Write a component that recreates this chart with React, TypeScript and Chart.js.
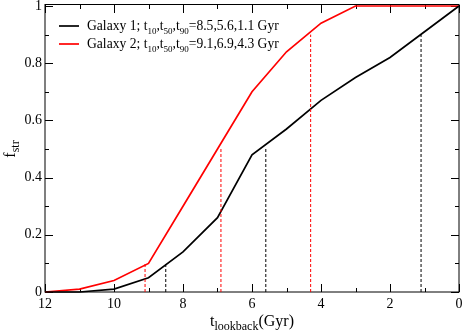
import React, { useEffect, useRef } from "react";
import { Chart, registerables } from "chart.js";

Chart.register(...registerables);

// ---- data ----
const lookbackTimes = [12, 11, 10, 9, 8, 7, 6, 5, 4, 3, 2, 1, 0];
const galaxy1 = [0, 0, 0.01, 0.05, 0.14, 0.26, 0.48, 0.57, 0.67, 0.75, 0.82, 0.91, 1.0];
const galaxy2 = [0, 0.01, 0.04, 0.10, 0.30, 0.50, 0.70, 0.84, 0.94, 1.0, 1.0, 1.0, 1.0];
const galaxy1Marks = [8.5, 5.6, 1.1];
const galaxy2Marks = [9.1, 6.9, 4.3];
const markLevels = [0.1, 0.5, 0.9];
const xTickLabels = [12, 10, 8, 6, 4, 2, 0];
const yTickLabels = [0, 0.2, 0.4, 0.6, 0.8, 1];
const legendNames = ["Galaxy 1", "Galaxy 2"];
const seriesColors = ["#000000", "#ff0000"];

const FONT = "'Liberation Serif', 'Times New Roman', serif";

function drawSubText(ctx: CanvasRenderingContext2D, parts: [string, boolean][], x: number, y: number, big: number, small: number, drop: number) {
  let cx = x;
  for (const [t, sub] of parts) {
    ctx.font = `${sub ? small : big}px ${FONT}`;
    ctx.fillText(t, cx, sub ? y + drop : y);
    cx += ctx.measureText(t).width;
  }
  return cx;
}

function measureSubText(ctx: CanvasRenderingContext2D, parts: [string, boolean][], big: number, small: number) {
  let w = 0;
  for (const [t, sub] of parts) {
    ctx.font = `${sub ? small : big}px ${FONT}`;
    w += ctx.measureText(t).width;
  }
  return w;
}

const decorPlugin = {
  id: "decor",
  beforeDatasetsDraw(chart: any) {
    const ctx: CanvasRenderingContext2D = chart.ctx;
    const { left, right, top, bottom } = chart.chartArea;
    const xs = chart.scales.x;
    const ys = chart.scales.y;
    ctx.save();
    ctx.strokeStyle = "#000";
    ctx.lineWidth = 1;
    // frame
    ctx.strokeRect(left, top - 1.5, right - left, bottom - top + 1.5);
    // x ticks
    for (let v = 0; v <= 12; v++) {
      const px = Math.round(xs.getPixelForValue(v)) + 0.5;
      const len = v % 2 === 0 ? 8 : 4;
      ctx.beginPath();
      ctx.moveTo(px, bottom);
      ctx.lineTo(px, bottom - len);
      ctx.moveTo(px, top - 1);
      ctx.lineTo(px, top - 1 + len);
      ctx.stroke();
    }
    for (let i = 0; i <= 10; i++) {
      const py = Math.round(ys.getPixelForValue(i / 10)) + 0.5;
      const len = i % 2 === 0 ? 8 : 4;
      ctx.beginPath();
      ctx.moveTo(left, py);
      ctx.lineTo(left + len, py);
      ctx.moveTo(right, py);
      ctx.lineTo(right - len, py);
      ctx.stroke();
    }
    ctx.restore();
  },
  afterDraw(chart: any) {
    const ctx: CanvasRenderingContext2D = chart.ctx;
    const { left, right, top, bottom } = chart.chartArea;
    ctx.save();
    ctx.fillStyle = "#000";
    ctx.textBaseline = "alphabetic";
    ctx.textAlign = "left";
    // legend
    const marksList = [galaxy1Marks, galaxy2Marks];
    for (let i = 0; i < 2; i++) {
      const y = 26 + i * 18;
      ctx.strokeStyle = seriesColors[i];
      ctx.lineWidth = 1.7;
      ctx.beginPath();
      ctx.moveTo(59, y);
      ctx.lineTo(79, y);
      ctx.stroke();
      const m = marksList[i];
      const parts: [string, boolean][] = [
        [legendNames[i] + "; t", false], ["10", true], [",t", false], ["50", true], [",t", false], ["90", true],
        [`=${m[0]},${m[1]},${m[2]} Gyr`, false],
      ];
      ctx.fillStyle = "#000";
      drawSubText(ctx, parts, 87, y + 4, 13.6, 9, 3.5);
    }
    // x title
    const xParts: [string, boolean][] = [["t", false], ["lookback", true], ["(Gyr)", false]];
    const xw = measureSubText(ctx, xParts, 16, 12);
    drawSubText(ctx, xParts, (left + right) / 2 - xw / 2, 326, 16, 12, 3.5);
    // y title
    const yParts: [string, boolean][] = [["f", false], ["str", true]];
    const yw = measureSubText(ctx, yParts, 16, 12);
    ctx.translate(15, (top + bottom) / 2);
    ctx.rotate(-Math.PI / 2);
    drawSubText(ctx, yParts, -yw / 2, 0, 16, 12, 3.5);
    ctx.restore();
  },
};

export default function App() {
  const ref = useRef<HTMLCanvasElement | null>(null);
  useEffect(() => {
    document.body.style.margin = "0";
    const canvas = ref.current;
    if (!canvas) return;
    const markSets = (marks: number[], color: string) =>
      marks.map((t, i) => ({
        data: [{ x: t, y: 0 }, { x: t, y: markLevels[i] }],
        borderColor: color,
        borderWidth: 1,
        borderDash: [3, 2],
        pointRadius: 0,
        fill: false,
      }));
    const chart = new Chart(canvas, {
      type: "line",
      data: {
        datasets: [
          ...markSets(galaxy1Marks, seriesColors[0]),
          ...markSets(galaxy2Marks, seriesColors[1]),
          {
            label: legendNames[0],
            data: lookbackTimes.map((t, i) => ({ x: t, y: galaxy1[i] })),
            borderColor: seriesColors[0],
            borderWidth: 1.7,
            pointRadius: 0,
            fill: false,
            tension: 0,
            clip: false,
          },
          {
            label: legendNames[1],
            data: lookbackTimes.map((t, i) => ({ x: t, y: galaxy2[i] })),
            borderColor: seriesColors[1],
            borderWidth: 1.7,
            pointRadius: 0,
            fill: false,
            tension: 0,
            clip: false,
          },
        ] as any,
      },
      options: {
        animation: false,
        responsive: false,
        events: [],
        layout: { padding: { left: 0, right: 4, top: 6, bottom: 0 } },
        plugins: { legend: { display: false }, tooltip: { enabled: false } },
        scales: {
          x: {
            type: "linear",
            min: 0,
            max: 12,
            reverse: true,
            grid: { display: false, drawTicks: false },
            border: { display: false },
            afterBuildTicks: (s: any) => { s.ticks = xTickLabels.map((v) => ({ value: v })); },
            afterFit: (s: any) => { s.height = 39; s.paddingLeft = 0; s.paddingRight = 0; },
            ticks: {
              padding: 4,
              color: "#000",
              font: { family: FONT, size: 14 },
              maxRotation: 0,
              callback: (v: any) => String(v),
            },
          },
          y: {
            type: "linear",
            min: 0,
            max: 1,
            grid: { display: false, drawTicks: false },
            border: { display: false },
            afterBuildTicks: (s: any) => { s.ticks = yTickLabels.map((v) => ({ value: v })); },
            afterFit: (s: any) => { s.width = 45; s.paddingTop = 0; s.paddingBottom = 0; },
            ticks: {
              padding: 3,
              color: "#000",
              font: { family: FONT, size: 14 },
              callback: (v: any) => String(Math.round(v * 10) / 10),
            },
          },
        },
      },
      plugins: [decorPlugin],
    } as any);
    return () => chart.destroy();
  }, []);
  return (
    <div style={{ width: 463, height: 331 }}>
      <canvas ref={ref} width={463} height={331} style={{ display: "block" }} />
    </div>
  );
}
